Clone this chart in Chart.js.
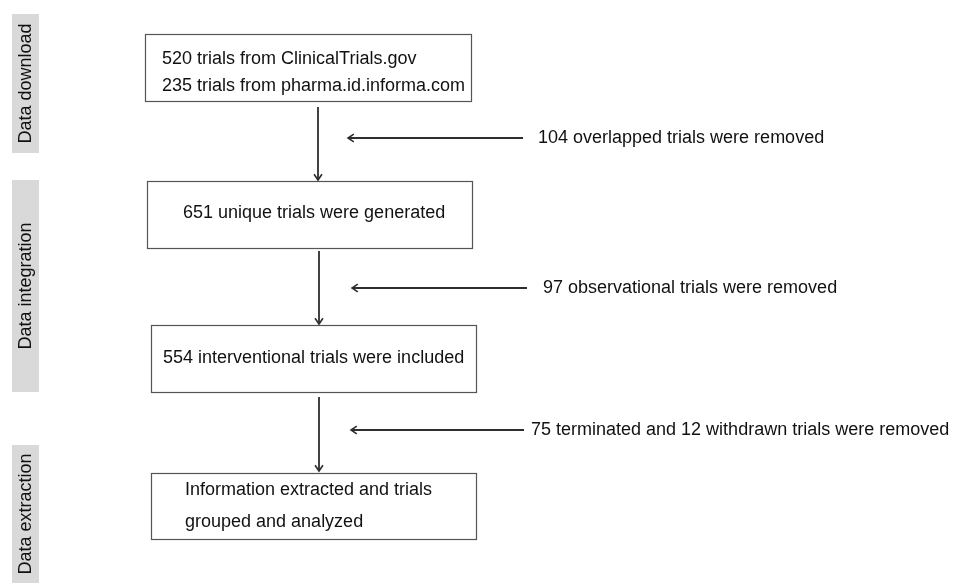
<!DOCTYPE html>
<html>
<head>
<meta charset="utf-8">
<title>Trial selection flowchart</title>
<script src="https://cdn.jsdelivr.net/npm/chart.js@4.4.1/dist/chart.umd.min.js"></script>
<style>
  html, body { margin: 0; padding: 0; background: #fff; }
  #flow { display: block; }
</style>
</head>
<body>
<canvas id="flow" width="966" height="583"></canvas>
<script>
'use strict';

/////////////////////
//// Data ///////////

const stages = ['Data download', 'Data integration', 'Data extraction'];
const sourceCounts = [520, 235];
const sourceNames = ['ClinicalTrials.gov', 'pharma.id.informa.com'];
const keptCounts = [651, 554];
const removedCounts = [104, 97, 75, 12];

const boxLines = [
  [sourceCounts[0] + ' trials from ' + sourceNames[0], sourceCounts[1] + ' trials from ' + sourceNames[1]],
  [keptCounts[0] + ' unique trials were generated'],
  [keptCounts[1] + ' interventional trials were included'],
  ['Information extracted and trials', 'grouped and analyzed']
];
const removedLines = [
  removedCounts[0] + ' overlapped trials were removed',
  removedCounts[1] + ' observational trials were removed',
  removedCounts[2] + ' terminated and ' + removedCounts[3] + ' withdrawn trials were removed'
];

/////////////////////
//// Layout /////////
// canvas units, y grows downward (y scale is reversed)

const layout = {
  bands: [{ y0: 14, y1: 153 }, { y0: 180, y1: 392 }, { y0: 445, y1: 583 }],
  bandX: [12, 39],
  boxes: [
    { x0: 145, y0: 34, x1: 471, y1: 101, tx: 162, ty: [59, 86] },
    { x0: 147, y0: 181, x1: 472, y1: 248, tx: 183, ty: [213] },
    { x0: 151, y0: 325, x1: 476, y1: 392, tx: 163, ty: [358] },
    { x0: 151, y0: 473, x1: 476, y1: 539, tx: 185, ty: [490, 522] }
  ],
  down: [
    { x: 318, y0: 107, y1: 180 },
    { x: 319, y0: 251, y1: 324 },
    { x: 319, y0: 397, y1: 471 }
  ],
  side: [
    { y: 138, x0: 523, x1: 348, tx: 538 },
    { y: 288, x0: 527, x1: 352, tx: 543 },
    { y: 430, x0: 524, x1: 351, tx: 531 }
  ]
};

const font = '18px "Liberation Sans", Arial, Helvetica, sans-serif';
const ink = '#111';
const lineCol = '#2e2e2e';

/////////////////////
//// Arrow datasets //

const arrowSets = [];
layout.down.forEach(function (a) {
  arrowSets.push({ data: [{ x: a.x, y: a.y0 }, { x: a.x, y: a.y1 }] });
});
layout.side.forEach(function (a) {
  arrowSets.push({ data: [{ x: a.x0, y: a.y }, { x: a.x1, y: a.y }] });
});
arrowSets.forEach(function (d) {
  d.showLine = true;
  d.borderColor = lineCol;
  d.borderWidth = 1.8;
  d.pointRadius = 0;
  d.fill = false;
});

/////////////////////
//// Drawing plugin /

const flowPlugin = {
  id: 'flow',
  beforeDatasetsDraw(chart) {
    const ctx = chart.ctx;
    const sx = chart.scales.x, sy = chart.scales.y;
    const px = v => sx.getPixelForValue(v);
    const py = v => sy.getPixelForValue(v);
    ctx.save();

    // stage bands
    layout.bands.forEach(function (b, i) {
      const x0 = px(layout.bandX[0]), x1 = px(layout.bandX[1]);
      const y0 = py(b.y0), y1 = py(b.y1);
      ctx.fillStyle = '#d9d9d9';
      ctx.fillRect(x0, y0, x1 - x0, y1 - y0);
      ctx.save();
      ctx.translate((x0 + x1) / 2 + 1, (y0 + y1) / 2);
      ctx.rotate(-Math.PI / 2);
      ctx.fillStyle = ink;
      ctx.font = font;
      ctx.textAlign = 'center';
      ctx.textBaseline = 'middle';
      ctx.fillText(stages[i], 0, 0);
      ctx.restore();
    });

    // boxes
    layout.boxes.forEach(function (b, i) {
      const x0 = px(b.x0), x1 = px(b.x1), y0 = py(b.y0), y1 = py(b.y1);
      ctx.strokeStyle = '#555';
      ctx.lineWidth = 1.2;
      ctx.strokeRect(x0 + 0.5, y0 + 0.5, x1 - x0, y1 - y0);
      ctx.fillStyle = ink;
      ctx.font = font;
      ctx.textAlign = 'left';
      ctx.textBaseline = 'middle';
      boxLines[i].forEach(function (t, j) {
        ctx.fillText(t, px(b.tx), py(b.ty[j]));
      });
    });

    // removal notes
    layout.side.forEach(function (a, i) {
      ctx.fillStyle = ink;
      ctx.font = font;
      ctx.textAlign = 'left';
      ctx.textBaseline = 'middle';
      ctx.fillText(removedLines[i], px(a.tx), py(a.y));
    });
    ctx.restore();
  },
  afterDatasetsDraw(chart) {
    const ctx = chart.ctx;
    ctx.save();
    ctx.strokeStyle = lineCol;
    ctx.lineWidth = 1.6;
    chart.data.datasets.forEach(function (ds, i) {
      const pts = chart.getDatasetMeta(i).data;
      const a = pts[0], b = pts[1];
      const ang = Math.atan2(b.y - a.y, b.x - a.x);
      const len = 7, spread = 0.6;
      ctx.beginPath();
      ctx.moveTo(b.x - len * Math.cos(ang - spread), b.y - len * Math.sin(ang - spread));
      ctx.lineTo(b.x, b.y);
      ctx.lineTo(b.x - len * Math.cos(ang + spread), b.y - len * Math.sin(ang + spread));
      ctx.stroke();
    });
    ctx.restore();
  }
};

const ctxf = document.getElementById('flow').getContext('2d');
const chartf = new Chart(ctxf, {
  type: 'scatter',
  data: { datasets: arrowSets },
  options: {
    responsive: false,
    animation: false,
    layout: { padding: 0 },
    plugins: {
      legend: { display: false },
      tooltip: { enabled: false }
    },
    scales: {
      x: { type: 'linear', min: 0, max: 966, display: false },
      y: { type: 'linear', min: 0, max: 583, reverse: true, display: false }
    }
  },
  plugins: [flowPlugin]
});
</script>
</body>
</html>
